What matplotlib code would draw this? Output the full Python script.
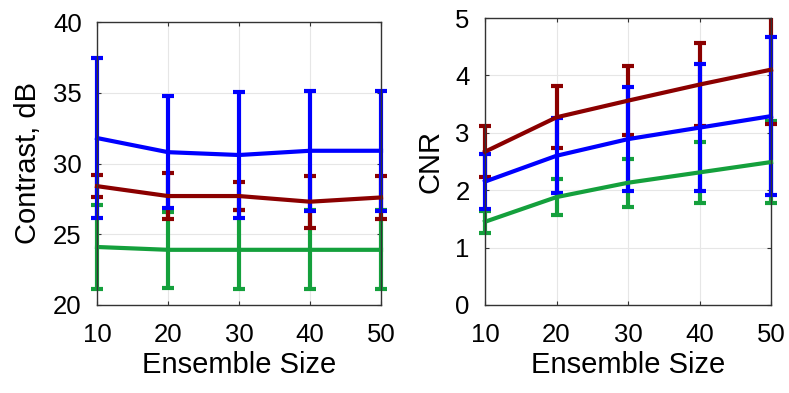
import numpy as np
import matplotlib
matplotlib.use("Agg")
import matplotlib.pyplot as plt
from matplotlib.patches import Rectangle

plt.rcParams['font.family'] = ['Liberation Sans', 'DejaVu Sans']

ensemble = [10, 20, 30, 40, 50]

# contrast (dB): mean and half-width of error bar
contrast_blue = [31.8, 30.8, 30.6, 30.9, 30.9]
contrast_blue_err = [5.65, 3.95, 4.45, 4.25, 4.25]
contrast_red = [28.4, 27.7, 27.7, 27.3, 27.6]
contrast_red_err = [0.8, 1.6, 1.0, 1.85, 1.5]
contrast_green = [24.1, 23.9, 23.9, 23.9, 23.9]
contrast_green_err = [2.95, 2.7, 2.8, 2.8, 2.8]

# CNR: mean and half-width of error bar
cnr_blue = [2.15, 2.60, 2.89, 3.09, 3.29]
cnr_blue_err = [0.48, 0.65, 0.90, 1.11, 1.38]
cnr_red = [2.67, 3.27, 3.56, 3.84, 4.10]
cnr_red_err = [0.44, 0.54, 0.60, 0.72, 0.95]
cnr_green = [1.45, 1.88, 2.13, 2.31, 2.49]
cnr_green_err = [0.19, 0.31, 0.42, 0.53, 0.72]

BLUE = '#0000ff'
RED = '#8b0000'
GREEN = '#14a03c'

W, H = 789, 393
fig = plt.figure(figsize=(W / 100, H / 100), dpi=100)


def px_axes(x0, y0, x1, y1):
    return fig.add_axes([x0 / W, (H - y1) / H, (x1 - x0) / W, (y1 - y0) / H])


def draw_series(ax, y, err, color):
    line, caps, bars = ax.errorbar(ensemble, y, yerr=err, color=color, lw=3,
                                   elinewidth=3, capsize=4.5, capthick=3)
    # clip only top/bottom so the end bars on x=10 and x=50 stay whole
    clip = Rectangle((-0.1, 0), 1.2, 1, transform=ax.transAxes,
                     facecolor='none', edgecolor='none')
    for art in [line, *caps, *bars]:
        art.set_clip_path(clip)


def style(ax, ylim, yticks, ylabel):
    ax.set_xlim(10, 50)
    ax.set_ylim(*ylim)
    ax.set_xticks(ensemble)
    ax.set_yticks(yticks)
    ax.grid(True, color='#e6e6e6', lw=0.8)
    ax.set_axisbelow(True)
    ax.tick_params(direction='in', length=3, width=0.8, top=True, right=True,
                   labelsize=18.5, color='#333333')
    ax.tick_params(axis='x', pad=13)
    ax.tick_params(axis='y', pad=11)
    for s in ax.spines.values():
        s.set_linewidth(1.0)
        s.set_color('#333333')
    ax.set_xlabel('Ensemble Size', fontsize=21, labelpad=3)
    ax.set_ylabel(ylabel, fontsize=21, labelpad=8)


ax1 = px_axes(97, 22, 381, 305)
draw_series(ax1, contrast_green, contrast_green_err, GREEN)
draw_series(ax1, contrast_red, contrast_red_err, RED)
draw_series(ax1, contrast_blue, contrast_blue_err, BLUE)
style(ax1, (20, 40), [20, 25, 30, 35, 40], 'Contrast, dB')

ax2 = px_axes(485, 18, 771, 305)
draw_series(ax2, cnr_green, cnr_green_err, GREEN)
draw_series(ax2, cnr_red, cnr_red_err, RED)
draw_series(ax2, cnr_blue, cnr_blue_err, BLUE)
style(ax2, (0, 5), [0, 1, 2, 3, 4, 5], 'CNR')

fig.savefig('out.png', dpi=100)
